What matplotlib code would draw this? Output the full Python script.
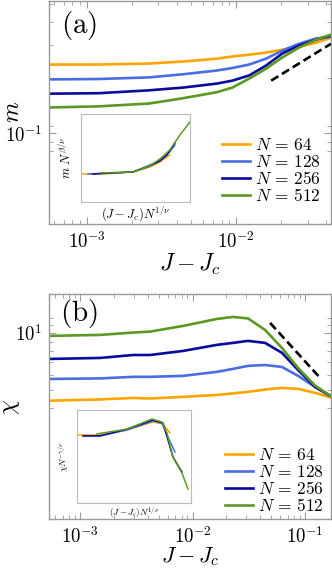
import numpy as np
import matplotlib
matplotlib.use("Agg")
import matplotlib.pyplot as plt
from matplotlib.ticker import FixedLocator, FuncFormatter, NullFormatter, NullLocator

plt.rcParams['mathtext.fontset'] = 'cm'
plt.rcParams['font.family'] = 'serif'

# ---- panel (a): magnetisation ----
dJ_a = [5.5e-4, 1.2e-3, 2.6e-3, 4.4e-3, 7.4e-3, 9.4e-3, 0.0122, 0.0158, 0.0203, 0.0263, 0.0342, 0.043]
m_64 = [0.236, 0.236, 0.239, 0.245, 0.254, 0.261, 0.267, 0.274, 0.284, 0.295, 0.310, 0.330]
m_128 = [0.196, 0.197, 0.201, 0.209, 0.219, 0.226, 0.236, 0.254, 0.281, 0.306, 0.327, 0.334]
m_256 = [0.164, 0.165, 0.171, 0.177, 0.186, 0.193, 0.206, 0.233, 0.271, 0.299, 0.322, 0.339]
m_512 = [0.138, 0.140, 0.145, 0.155, 0.167, 0.177, 0.198, 0.224, 0.258, 0.292, 0.322, 0.343]
guide_a_x = [0.0171, 0.043]
guide_a_y = [0.193, 0.306]

# inset (a): collapse
ia_x64 = [0.1, 0.27, 1.52, 3.70, 6.24, 10.5]
ia_y64 = [0.624, 0.624, 0.658, 0.750, 0.855, 1.026]
ia_x128 = [0.144, 1.52, 3.70, 6.24, 9.01, 13.7]
ia_y128 = [0.624, 0.658, 0.790, 0.900, 1.026, 1.33]
ia_x256 = [0.187, 1.52, 3.70, 6.24, 9.01, 13.7]
ia_y256 = [0.624, 0.658, 0.770, 0.877, 1.026, 1.40]
ia_x512 = [0.27, 1.52, 3.70, 6.24, 10.5, 17.8, 30.0]
ia_y512 = [0.641, 0.658, 0.770, 0.924, 1.17, 1.73, 2.43]

# ---- panel (b): susceptibility ----
dJ_b = [5.3e-4, 1.51e-3, 2.96e-3, 4.19e-3, 8.23e-3, 0.0165, 0.0229, 0.0311, 0.0441, 0.0624, 0.0867, 0.1227, 0.1738]
chi_64 = [4.36, 4.43, 4.51, 4.48, 4.57, 4.68, 4.77, 4.86, 5.00, 5.10, 5.04, 4.80, 4.51]
chi_128 = [5.69, 5.73, 5.84, 5.84, 5.91, 6.21, 6.44, 6.68, 6.75, 6.59, 5.91, 5.16, 4.57]
chi_256 = [7.27, 7.36, 7.63, 7.63, 8.02, 8.64, 8.85, 9.07, 8.85, 7.83, 6.35, 5.16, 4.57]
chi_512 = [9.64, 9.76, 10.04, 10.16, 10.89, 11.87, 12.16, 11.94, 10.37, 8.31, 6.51, 5.25, 4.57]
guide_b_x = [0.0489, 0.1387]
guide_b_y = [11.30, 5.69]

# inset (b): collapse
ib_x64 = [0.1, 0.316, 1.22, 4.49, 7.41, 10.5]
ib_y64 = [1.62, 1.62, 1.83, 2.23, 2.12, 1.70]
ib_x128 = [0.135, 0.316, 1.22, 4.49, 7.04, 9.05, 13.5]
ib_y128 = [1.58, 1.58, 1.83, 2.29, 2.17, 1.62, 1.06]
ib_x256 = [0.135, 0.316, 1.22, 4.49, 7.41, 9.51, 12.2, 19.2]
ib_y256 = [1.58, 1.58, 1.87, 2.34, 2.17, 1.43, 0.937, 0.646]
ib_x512 = [0.272, 1.22, 4.27, 7.04, 9.05, 12.2, 19.2, 25.9]
ib_y512 = [1.66, 1.87, 2.40, 2.23, 1.70, 0.937, 0.63, 0.424]

sizes = ['64', '128', '256', '512']
colors = ['#ffa500', '#4a6ee0', '#0a0a9c', '#5b9a22']
frame = '#999999'


def decade(v, pos):
    return r'$10^{%d}$' % int(round(np.log10(v)))


def style(ax, minor_y):
    ax.set_xscale('log')
    ax.set_yscale('log')
    for s in ax.spines.values():
        s.set_color(frame)
        s.set_linewidth(1.0)
    ax.tick_params(which='both', direction='in', color=frame, top=True, right=True,
                   labelsize=13.5, pad=5)
    ax.tick_params(which='major', length=5)
    ax.tick_params(which='minor', length=3)
    ax.xaxis.set_major_formatter(FuncFormatter(decade))
    ax.yaxis.set_major_formatter(FuncFormatter(decade))
    ax.yaxis.set_minor_locator(FixedLocator(minor_y))
    ax.yaxis.set_minor_formatter(NullFormatter())
    ax.xaxis.set_minor_formatter(NullFormatter())


def inset(rect, ylab, xlab, fs, ypad):
    ia = fig.add_axes(rect)
    ia.set_xscale('log')
    ia.set_yscale('log')
    ia.set_xlim(0.1, 30)
    ia.set_ylim(0.3, 3)
    for axis in (ia.xaxis, ia.yaxis):
        axis.set_major_locator(NullLocator())
        axis.set_minor_locator(NullLocator())
    for s in ia.spines.values():
        s.set_color('#bbbbbb')
        s.set_linewidth(0.8)
    ia.set_ylabel(ylab, fontsize=fs, labelpad=ypad)
    ia.set_xlabel(xlab, fontsize=fs, labelpad=2)
    return ia


fig = plt.figure(figsize=(3.32, 5.69), dpi=100)

# panel (a)
ax1 = fig.add_axes([0.1476, 0.6063, 0.8494, 0.3925])
style(ax1, [0.08, 0.09, 0.11, 0.2, 0.3, 0.4, 0.5])
for lab, y, c in zip(sizes, [m_64, m_128, m_256, m_512], colors):
    ax1.plot(dJ_a, y, color=c, lw=1.9, label=r'$N\,=\,%s$' % lab)
ax1.plot(guide_a_x, guide_a_y, color='black', lw=1.9, ls=(0, (3.2, 1.6)))
ax1.set_xlim(5.58e-4, 0.043)
ax1.set_ylim(0.0322, 0.524)
ax1.set_xlabel(r'$J - J_c$', fontsize=17, labelpad=0)
ax1.set_ylabel(r'$m$', fontsize=17)
ax1.yaxis.set_label_coords(-0.09, 0.5)
ax1.text(0.043, 0.89, r'$\mathrm{(a)}$', transform=ax1.transAxes, fontsize=21, va='center')
ax1.legend(loc='upper left', bbox_to_anchor=(0.59, 0.42), frameon=False, fontsize=12.5,
           handlelength=1.6, handletextpad=0.3, labelspacing=0.0, borderaxespad=0)

ia1 = inset([0.244, 0.645, 0.328, 0.1547], r'$m\ N^{\beta/\nu}$', r'$(J-J_c)N^{1/\nu}$', 9, 5)
for xs, ys, c in zip([ia_x64, ia_x128, ia_x256, ia_x512], [ia_y64, ia_y128, ia_y256, ia_y512], colors):
    ia1.plot(xs, ys, color=c, lw=1.1)

# panel (b)
ax2 = fig.add_axes([0.1476, 0.0879, 0.8494, 0.3954])
style(ax2, [4, 5, 6, 7, 8, 9, 11, 12])
for lab, y, c in zip(sizes, [chi_64, chi_128, chi_256, chi_512], colors):
    ax2.plot(dJ_b, y, color=c, lw=1.9, label=r'$N\,=\,%s$' % lab)
ax2.plot(guide_b_x, guide_b_y, color='black', lw=1.9, ls=(0, (3.2, 1.6)))
ax2.set_xlim(5.3e-4, 0.170)
ax2.set_ylim(1.025, 16.1)
ax2.set_xlabel(r'$J - J_c$', fontsize=16, labelpad=-1)
ax2.set_ylabel(r'$\chi$', fontsize=17)
ax2.yaxis.set_label_coords(-0.095, 0.5)
ax2.text(0.038, 0.915, r'$\mathrm{(b)}$', transform=ax2.transAxes, fontsize=21, va='center')
ax2.legend(loc='upper left', bbox_to_anchor=(0.6, 0.35), frameon=False, fontsize=12.5,
           handlelength=1.6, handletextpad=0.3, labelspacing=0.0, borderaxespad=0)

ia2 = inset([0.232, 0.116, 0.343, 0.1634], r'$\chi N^{-\gamma/\nu}$', r'$(J-J_c)N^{1/\nu}$', 6.5, 4)
for xs, ys, c in zip([ib_x64, ib_x128, ib_x256, ib_x512], [ib_y64, ib_y128, ib_y256, ib_y512], colors):
    ia2.plot(xs, ys, color=c, lw=1.1)

fig.savefig('out.png', dpi=100)
